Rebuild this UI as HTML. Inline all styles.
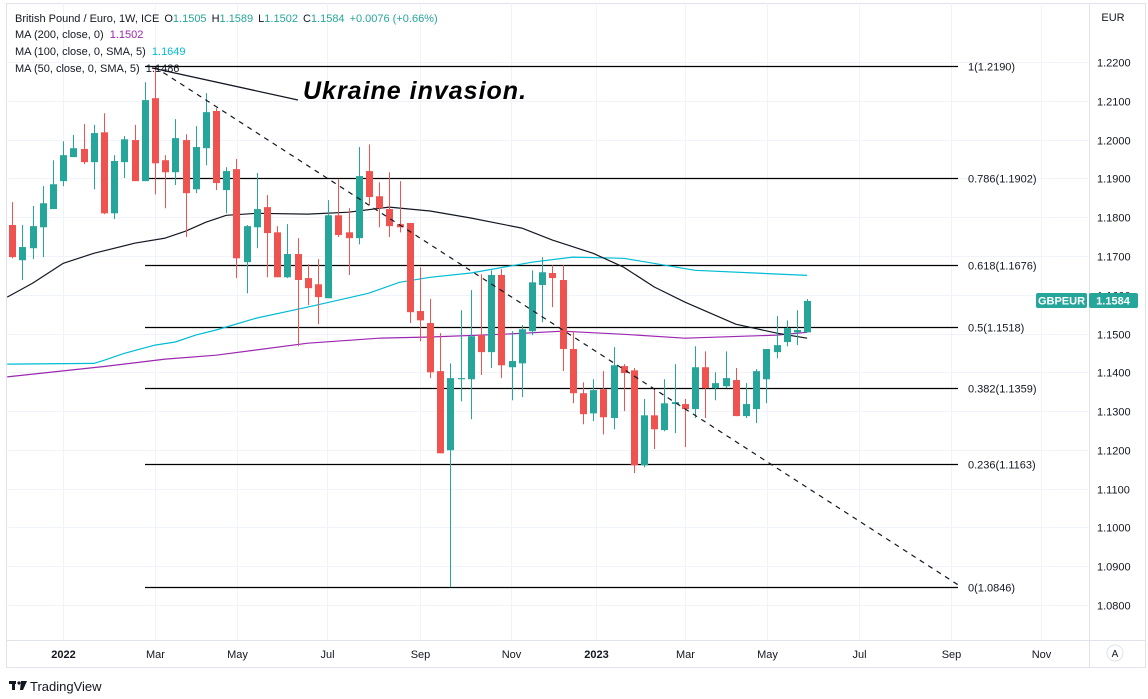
<!DOCTYPE html>
<html><head><meta charset="utf-8"><style>
body{margin:0;background:#fff;width:1148px;height:694px;overflow:hidden;font-family:"Liberation Sans",sans-serif}
svg text{font-family:"Liberation Sans",sans-serif}
</style></head><body>
<svg id="chart" width="1148" height="694" xmlns="http://www.w3.org/2000/svg">
<rect x="6.5" y="3.5" width="1139" height="664" fill="#fff" stroke="#e0e3eb"/>
<g id="grid"></g>
<g id="fib"></g>
<g id="mas"></g>
<g id="candles"></g>
<g id="ann"></g>
<line x1="1089.5" y1="3" x2="1089.5" y2="667" stroke="#e0e3eb"/>
<line x1="6" y1="640.5" x2="1146" y2="640.5" stroke="#e0e3eb"/>
<g id="yaxis"></g>
<g id="xaxis"></g>
<text x="1113" y="21" font-size="11" fill="#131722" text-anchor="middle">EUR</text>
<g font-size="11">
<text x="15" y="22" fill="#131722">British Pound / Euro, 1W, ICE <tspan dx="2">O</tspan><tspan fill="#26a69a">1.1505</tspan><tspan dx="5">H</tspan><tspan fill="#26a69a">1.1589</tspan><tspan dx="5">L</tspan><tspan fill="#26a69a">1.1502</tspan><tspan dx="5">C</tspan><tspan fill="#26a69a">1.1584</tspan><tspan dx="5" fill="#26a69a">+0.0076 (+0.66%)</tspan></text>
<text x="15" y="38" fill="#131722">MA (200, close, 0) <tspan dx="3" fill="#9c27b0">1.1502</tspan></text>
<text x="15" y="55" fill="#131722">MA (100, close, 0, SMA, 5) <tspan dx="3" fill="#00bcd4">1.1649</tspan></text>
<text x="15" y="72" fill="#131722">MA (50, close, 0, SMA, 5) <tspan dx="3">1.1486</tspan></text>
</g>
<g>
<rect x="1036" y="293" width="51" height="15" rx="2" fill="#26a69a"/>
<text x="1061.5" y="304.5" font-size="11" font-weight="bold" fill="#fff" text-anchor="middle">GBPEUR</text>
<rect x="1089" y="293" width="49" height="15" rx="2" fill="#26a69a"/>
<text x="1113" y="304.5" font-size="11" font-weight="bold" fill="#fff" text-anchor="middle">1.1584</text>
</g>
<g>
<circle cx="1115" cy="653" r="8" fill="#fff" stroke="#e0e3eb"/>
<text x="1115" y="657" font-size="10" fill="#131722" text-anchor="middle">A</text>
</g>
<g>
<rect x="9" y="681" width="7" height="3" fill="#131722"/><rect x="12" y="681" width="3" height="9" fill="#131722"/>
<circle cx="19" cy="683" r="1.6" fill="#131722"/><path d="M21 681 L27 681 L23 690 L20 690 Z" fill="#131722"/>
<text x="30" y="691" font-size="13" fill="#131722">TradingView</text>
</g>
</svg>
<script>
const opens=[1.1780,1.1689,1.1720,1.1774,1.1821,1.1893,1.1955,1.1976,1.1942,1.2019,1.1810,1.1942,1.1999,1.1893,1.2107,1.1947,1.1916,1.1999,1.1872,1.1978,1.2074,1.1870,1.1924,1.1684,1.1774,1.1826,1.1761,1.1645,1.1705,1.1643,1.1627,1.1591,1.1805,1.1761,1.1746,1.1919,1.1854,1.1821,1.1782,1.1785,1.1558,1.1527,1.1403,1.1199,1.1382,1.1382,1.1496,1.1452,1.1651,1.1413,1.1423,1.1506,1.1625,1.1656,1.1638,1.1460,1.1346,1.1294,1.1356,1.1282,1.1416,1.1405,1.1160,1.1289,1.1251,1.1318,1.1318,1.1305,1.1413,1.1359,1.1364,1.1380,1.1287,1.1305,1.1382,1.1452,1.1478,1.1503,1.1503];
const highs=[1.1839,1.1780,1.1829,1.1880,1.1947,1.1996,1.2012,1.2040,1.2038,1.2068,1.1960,1.2009,1.2038,1.2148,1.2187,1.1960,1.2053,1.2014,1.2035,1.2120,1.2081,1.1929,1.1950,1.1780,1.1914,1.1857,1.1777,1.1782,1.1746,1.1679,1.1692,1.1844,1.1898,1.1823,1.1981,1.1988,1.1890,1.1916,1.1893,1.1785,1.1671,1.1589,1.1501,1.1423,1.1560,1.1612,1.1653,1.1663,1.1666,1.1506,1.1522,1.1663,1.1697,1.1676,1.1676,1.1506,1.1374,1.1382,1.1403,1.1465,1.1421,1.1411,1.1331,1.1356,1.1382,1.1421,1.1331,1.1467,1.1454,1.1400,1.1454,1.1411,1.1372,1.1408,1.1460,1.1545,1.1534,1.1560,1.1589];
const lows=[1.1694,1.1638,1.1692,1.1697,1.1821,1.1880,1.1955,1.1937,1.1872,1.1808,1.1795,1.1901,1.1893,1.1893,1.1859,1.1823,1.1883,1.1749,1.1862,1.1934,1.1870,1.1810,1.1643,1.1604,1.1720,1.1645,1.1645,1.1643,1.1467,1.1573,1.1524,1.1591,1.1749,1.1651,1.1730,1.1831,1.1774,1.1749,1.1761,1.1527,1.1480,1.1385,1.1191,1.0846,1.1325,1.1279,1.1393,1.1411,1.1385,1.1328,1.1336,1.1496,1.1529,1.1568,1.1403,1.1320,1.1266,1.1274,1.1240,1.1253,1.1300,1.1140,1.1155,1.1202,1.1248,1.1243,1.1207,1.1282,1.1282,1.1328,1.1359,1.1287,1.1282,1.1269,1.1320,1.1436,1.1467,1.1470,1.1503];
const closes=[1.1697,1.1723,1.1777,1.1836,1.1885,1.1960,1.1978,1.1942,1.2017,1.1810,1.1945,1.2001,1.1893,1.2102,1.1939,1.1916,1.2004,1.1862,1.1981,1.2071,1.1888,1.1919,1.1694,1.1777,1.1821,1.1759,1.1645,1.1705,1.1638,1.1617,1.1594,1.1805,1.1754,1.1746,1.1906,1.1852,1.1823,1.1777,1.1774,1.1555,1.1534,1.1400,1.1191,1.1385,1.1385,1.1493,1.1452,1.1651,1.1418,1.1429,1.1511,1.1632,1.1658,1.1643,1.1460,1.1346,1.1292,1.1354,1.1284,1.1418,1.1398,1.1160,1.1289,1.1253,1.1320,1.1323,1.1305,1.1413,1.1359,1.1372,1.1385,1.1287,1.1318,1.1403,1.1460,1.1470,1.1514,1.1509,1.1584];
const ma50Idx=[-0.5,2,5,8,12,15,17,19,21,24,29,33,37,41,45,50,53,57,60,63,66,71,75,78];
const ma50Val=[1.1594,1.1630,1.1681,1.1707,1.1733,1.1746,1.1764,1.1787,1.1805,1.1810,1.1808,1.1813,1.1826,1.1816,1.1798,1.1772,1.1741,1.1707,1.1671,1.1620,1.1581,1.1524,1.1501,1.1488];
const ma100Idx=[-0.5,8,9,11,14,16,18,20,24,29,35,38,41,45,51,55,60,67,78];
const ma100Val=[1.1421,1.1423,1.1431,1.1449,1.1470,1.1478,1.1496,1.1509,1.1540,1.1568,1.1604,1.1632,1.1645,1.1656,1.1684,1.1697,1.1694,1.1663,1.1650];
const ma200Idx=[-0.5,9,15,20,29,36,41,48,54,60,66,75,78];
const ma200Val=[1.1388,1.1415,1.1434,1.1444,1.1475,1.1488,1.1491,1.1498,1.1506,1.1498,1.1488,1.1496,1.1503];
const fibRatios=["1","0.786","0.618","0.5","0.382","0.236","0"];
const fibPrices=[1.2190,1.1902,1.1676,1.1518,1.1359,1.1163,1.0846];
const priceTicks=[1.22,1.21,1.20,1.19,1.18,1.17,1.16,1.15,1.14,1.13,1.12,1.11,1.10,1.09,1.08];
const timeLabels=["2022","Mar","May","Jul","Sep","Nov","2023","Mar","May","Jul","Sep","Nov"];
const timeIdx=[4.98,14.0,22.05,30.9,40.0,48.9,57.3,66.0,74.1,83.1,92.1,101.0];
const trendIdx=[14,92.8];
const trendVal=[1.2187,1.0852];

const NS="http://www.w3.org/2000/svg";
const X=i=>12.3+10.19*i;
const Y=p=>66+(1.2190-p)*3877;
function mk(parent,tag,attrs){const e=document.createElementNS(NS,tag);for(const k in attrs)e.setAttribute(k,attrs[k]);document.getElementById(parent).appendChild(e);return e;}

priceTicks.forEach((p,k)=>{
  const y=Math.round(Y(p))+0.5;
  const g=mk('grid','line',{x1:6,y1:y,x2:1089,y2:y,stroke:'#f0f3fa'});
  
  
  const t=mk('yaxis','text',{x:1097,y:y+4,'font-size':11,fill:'#131722'});
  t.textContent=p.toFixed(4);
  
  
});
timeLabels.forEach((s,k)=>{
  const x=Math.round(X(timeIdx[k]))+0.5;
  const g=mk('grid','line',{x1:x,y1:3,x2:x,y2:640,stroke:'#f0f3fa'});
  
  
  const t=mk('xaxis','text',{x:x,y:658,'font-size':11,fill:'#131722','text-anchor':'middle','font-weight':(s.length===4?'bold':'normal')});
  t.textContent=s;
  
  
});
fibPrices.forEach((p,k)=>{
  const y=Math.round(Y(p))+0.5;
  const l=mk('fib','line',{x1:145,y1:y,x2:958,y2:y,stroke:'#000','stroke-width':1.3});
  
  
  const t=mk('fib','text',{x:968,y:y+4,'font-size':11,fill:'#131722'});
  t.textContent=fibRatios[k]+'('+p.toFixed(4)+')';
  
  
});
function maLine(idx,val,color,name){
  const pts=idx.map((i,k)=>X(i).toFixed(1)+','+Y(val[k]).toFixed(1)).join(' ');
  const l=mk('mas','polyline',{points:pts,fill:'none',stroke:color,'stroke-width':1.2,'stroke-linejoin':'round'});
  
  
}
maLine(ma200Idx,ma200Val,'#9c27b0','ma200-line');
maLine(ma100Idx,ma100Val,'#00bcd4','ma100-line');
maLine(ma50Idx,ma50Val,'#131722','ma50-line');
opens.forEach((o,i)=>{
  const c=closes[i],up=c>=o,col=up?'#26a69a':'#ef5350';
  const x=Math.round(X(i));
  const w=mk('candles','line',{x1:x+0.5,y1:Y(highs[i]),x2:x+0.5,y2:Y(lows[i]),stroke:col,'stroke-width':1});
  
  
  const top=Y(Math.max(o,c)),bot=Y(Math.min(o,c));
  const b=mk('candles','rect',{x:x-3,y:top,width:7,height:Math.max(1,bot-top),fill:col});
  
  
});
const tl=mk('ann','line',{x1:X(trendIdx[0]),y1:Y(trendVal[0]),x2:X(trendIdx[1]),y2:Y(trendVal[1]),stroke:'#131722','stroke-width':1.2,'stroke-dasharray':'5,5'});


const cl=mk('ann','line',{x1:152,y1:68,x2:298,y2:100,stroke:'#131722','stroke-width':1.3});


const ct=mk('ann','text',{x:303,y:99,'font-size':25,'font-style':'italic','font-weight':'bold',fill:'#000','letter-spacing':'1'});
ct.textContent='Ukraine invasion.';


</script>
</body></html>
